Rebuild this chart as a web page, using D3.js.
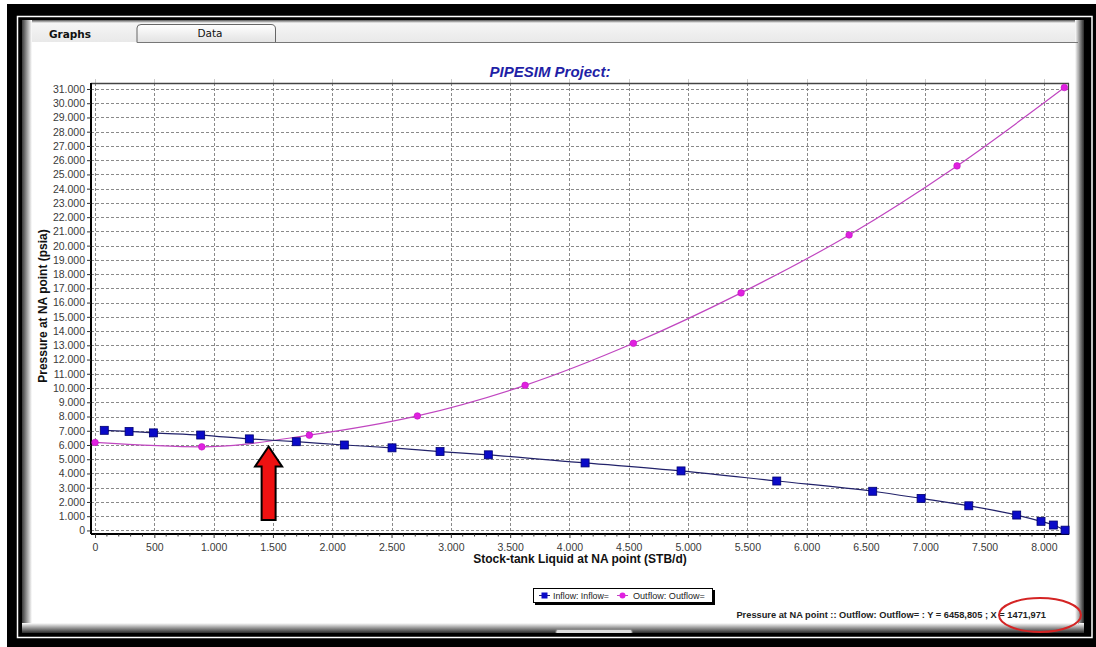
<!DOCTYPE html>
<html><head><meta charset="utf-8">
<script src="https://cdn.jsdelivr.net/npm/d3@7"></script>
<style>body{margin:0;background:#fff}svg{display:block}</style>
</head><body>
<svg id="c" width="1096" height="647"></svg>
<script>
// ---- data ----
const inflowX = [78, 287, 492, 891, 1301, 1697, 2102, 2504, 2909, 3316, 4132, 4941, 5748, 6557, 6965, 7367, 7771, 7976, 8080, 8179];
const inflowY = [7030, 6950, 6850, 6700, 6430, 6230, 6000, 5800, 5540, 5310, 4740, 4180, 3470, 2750, 2250, 1730, 1080, 640, 380, 20];
const outflowX = [0, 900, 1807, 2718, 3626, 4539, 5447, 6358, 7268, 8173];
const outflowY = [6180, 5870, 6690, 8040, 10190, 13140, 16680, 20750, 25600, 31100];
const xTickValues = [0, 500, 1000, 1500, 2000, 2500, 3000, 3500, 4000, 4500, 5000, 5500, 6000, 6500, 7000, 7500, 8000];
const yTickValues = [0, 1000, 2000, 3000, 4000, 5000, 6000, 7000, 8000, 9000, 10000, 11000, 12000, 13000, 14000, 15000, 16000, 17000, 18000, 19000, 20000, 21000, 22000, 23000, 24000, 25000, 26000, 27000, 28000, 29000, 30000, 31000];
const seriesNames = ["Inflow: Inflow=", "Outflow: Outflow="];
const crossX = 1471.971, crossY = 6458.805;
const titleText = "PIPESIM Project:";
const xTitle = "Stock-tank Liquid at NA point (STB/d)";
const yTitle = "Pressure at NA point (psia)";

const loc = d3.formatLocale({decimal: ",", thousands: ".", grouping: [3], currency: ["", ""]});
const fmtInt = loc.format(",d");
const fmt3 = loc.format(".3f");

const svg = d3.select("#c");
const defs = svg.append("defs");
const FONT = "'Liberation Sans', Arial, sans-serif";

// fit a text element to a target width by adjusting its font size
function fitWidth(sel, w) {
  const fs = +sel.attr("font-size");
  const len = sel.node().getComputedTextLength();
  if (len > 0) sel.attr("font-size", (fs * w / len).toFixed(2));
  return sel;
}

// ---- outer frame ----
svg.append("rect").attr("x", 7).attr("y", 4).attr("width", 1089).attr("height", 643).attr("fill", "#000");
svg.append("rect").attr("x", 17.5).attr("y", 16.5).attr("width", 1074.5).attr("height", 621)
  .attr("fill", "none").attr("stroke", "#fff").attr("stroke-width", 1.5);
svg.append("rect").attr("x", 22).attr("y", 20).attr("width", 1062).attr("height", 613).attr("fill", "#fff");

function grad(id, x1, y1, x2, y2, c1, c2) {
  const g = defs.append("linearGradient").attr("id", id)
    .attr("x1", x1).attr("y1", y1).attr("x2", x2).attr("y2", y2);
  g.append("stop").attr("offset", "0").attr("stop-color", c1);
  g.append("stop").attr("offset", "1").attr("stop-color", c2);
}
grad("gl", 0, 0, 1, 0, "#3a3a3a", "#ffffff");
grad("gr", 1, 0, 0, 0, "#2a2a2a", "#ffffff");
grad("gb", 0, 1, 0, 0, "#2a2a2a", "#ffffff");
grad("gt", 0, 0, 0, 1, "#555", "#f4f4f4");
grad("gtab", 0, 0, 0, 1, "#ffffff", "#e2e2e2");
grad("gstrip", 0, 0, 0, 1, "#f7f7f7", "#e9e9e9");

svg.append("rect").attr("x", 22).attr("y", 20).attr("width", 1062).attr("height", 22).attr("fill", "url(#gstrip)");
svg.append("rect").attr("x", 22).attr("y", 20).attr("width", 1062).attr("height", 3).attr("fill", "url(#gt)");
svg.append("rect").attr("x", 22).attr("y", 20).attr("width", 10).attr("height", 613).attr("fill", "url(#gl)");
svg.append("rect").attr("x", 1075).attr("y", 20).attr("width", 9).attr("height", 613).attr("fill", "url(#gr)");
svg.append("rect").attr("x", 22).attr("y", 623).attr("width", 1062).attr("height", 10).attr("fill", "url(#gb)");

// ---- tabs ----
svg.append("path")
  .attr("d", "M137,42.5 L137,28 Q137,24.5 141,24.5 L271,24.5 Q275.5,24.5 275.5,29 L275.5,42.5")
  .attr("fill", "url(#gtab)").attr("stroke", "#666").attr("stroke-width", 1);
svg.append("line").attr("x1", 137).attr("x2", 1078).attr("y1", 42.5).attr("y2", 42.5)
  .attr("stroke", "#777");
svg.append("line").attr("x1", 1078.5).attr("x2", 1078.5).attr("y1", 42).attr("y2", 624)
  .attr("stroke", "#b0b0b0");
svg.append("text").attr("x", 70).attr("y", 38).attr("text-anchor", "middle")
  .attr("font-family", "Tahoma, 'DejaVu Sans', sans-serif").attr("font-weight", "bold").attr("font-size", 10.5)
  .attr("fill", "#111").text("Graphs");
svg.append("text").attr("x", 210).attr("y", 37).attr("text-anchor", "middle")
  .attr("font-family", "Tahoma, 'DejaVu Sans', sans-serif").attr("font-size", 10.5)
  .attr("fill", "#111").text("Data");
// small control at the bottom
svg.append("path").attr("d", "M556,633 L556,631 Q556,629.5 558,629.5 L630,629.5 Q632,629.5 632,631 L632,633")
  .attr("fill", "#ddd").attr("stroke", "#888");

// ---- title ----
svg.append("text").attr("x", 550).attr("y", 77).attr("text-anchor", "middle")
  .attr("font-family", FONT).attr("font-weight", "bold").attr("font-style", "italic")
  .attr("font-size", 15).attr("fill", "#1f1fa6").text(titleText);

// ---- scales ----
const L = 91, R = 1069, T = 83, B = 534;
const x = d3.scaleLinear().domain([-34, 8212]).range([L, R]);
const y = d3.scaleLinear().domain([-250, 31420]).range([B, T]);

// ---- grid ----
const grid = svg.append("g");
grid.selectAll("line.h").data(yTickValues).join("line")
  .attr("x1", L).attr("x2", R).attr("y1", d => Math.round(y(d)) + 0.5).attr("y2", d => Math.round(y(d)) + 0.5)
  .attr("stroke", "#8a8a8a").attr("stroke-dasharray", "3,2");
grid.selectAll("line.v").data(xTickValues).join("line")
  .attr("y1", T).attr("y2", B).attr("x1", d => Math.round(x(d)) + 0.5).attr("x2", d => Math.round(x(d)) + 0.5)
  .attr("stroke", "#8a8a8a").attr("stroke-dasharray", "3,2");
grid.selectAll("line.tm").data(xTickValues).join("line")
  .attr("y1", T - 4).attr("y2", T).attr("x1", d => Math.round(x(d)) + 0.5).attr("x2", d => Math.round(x(d)) + 0.5)
  .attr("stroke", "#ccc");

// ---- frame ----
svg.append("line").attr("x1", L).attr("x2", R).attr("y1", T + 0.5).attr("y2", T + 0.5).attr("stroke", "#444").attr("stroke-width", 1.5);
svg.append("line").attr("x1", R - 0.5).attr("x2", R - 0.5).attr("y1", T).attr("y2", B).attr("stroke", "#444").attr("stroke-width", 1.2);

// ---- axes ----
const yAxis = d3.axisLeft(y).tickValues(yTickValues).tickFormat(d => d === 0 ? "0" : fmtInt(d)).tickSize(4).tickPadding(2);
const gy = svg.append("g").attr("transform", `translate(${L},0)`).call(yAxis);
const xAxis = d3.axisBottom(x).tickValues(xTickValues).tickFormat(d => d === 0 ? "0" : fmtInt(d)).tickSize(4).tickPadding(6);
const gx = svg.append("g").attr("transform", `translate(0,${B})`).call(xAxis);
const minorX = d3.range(100, 8200, 100).filter(v => v % 500 !== 0);
svg.append("g").selectAll("line").data(minorX).join("line")
  .attr("x1", d => x(d)).attr("x2", d => x(d)).attr("y1", B).attr("y2", B + 2.5).attr("stroke", "#333");
[gx, gy].forEach(g => {
  g.select(".domain").attr("stroke", "#000").attr("stroke-width", 2);
  g.selectAll(".tick line").attr("stroke", "#333");
  g.selectAll(".tick text").attr("font-family", FONT).attr("font-size", 10.5).attr("fill", "#3a3a3a");
});
gy.select(".domain").attr("d", `M0,${T}V${B}`);
gx.select(".domain").attr("d", `M${L},0H${R}`);

// ---- axis titles ----
svg.append("text").attr("x", 580).attr("y", 563).attr("text-anchor", "middle")
  .attr("font-family", FONT).attr("font-weight", "bold").attr("font-size", 12).attr("fill", "#111").text(xTitle);
svg.append("text").attr("transform", "translate(47,306) rotate(-90)").attr("text-anchor", "middle")
  .attr("font-family", FONT).attr("font-weight", "bold").attr("font-size", 12).attr("fill", "#111").text(yTitle);

// ---- series ----
const inflow = inflowX.map((v, i) => [v, inflowY[i]]);
const outflow = outflowX.map((v, i) => [v, outflowY[i]]);
const line = d3.line().x(d => x(d[0])).y(d => y(d[1])).curve(d3.curveMonotoneX);
svg.append("path").datum(outflow).attr("d", line).attr("fill", "none").attr("stroke", "#c046c0").attr("stroke-width", 1.2);
svg.append("path").datum(inflow).attr("d", line).attr("fill", "none").attr("stroke", "#22226a").attr("stroke-width", 1.2);
svg.append("g").selectAll("rect").data(inflow).join("rect")
  .attr("x", d => x(d[0]) - 4).attr("y", d => y(d[1]) - 4).attr("width", 8).attr("height", 8)
  .attr("fill", "#0a0ac8").attr("stroke", "#000070").attr("stroke-width", 0.8);
svg.append("g").selectAll("circle").data(outflow).join("circle")
  .attr("cx", d => x(d[0])).attr("cy", d => y(d[1])).attr("r", 3.3)
  .attr("fill", "#e020e0").attr("stroke", "#c010c0").attr("stroke-width", 0.6);

// ---- red arrow annotation ----
const tx = x(crossX) - 1, ty = y(crossY) + 8;
const arrowPts = [[tx, ty], [tx + 13.5, ty + 20], [tx + 7, ty + 20], [tx + 7, 520], [tx - 7, 520], [tx - 7, ty + 20], [tx - 13.5, ty + 20]];
svg.append("polygon").attr("points", arrowPts.map(p => p.join(",")).join(" "))
  .attr("fill", "#ee1111").attr("stroke", "#000").attr("stroke-width", 2).attr("stroke-linejoin", "miter");

// ---- legend ----
const lg = svg.append("g");
lg.append("rect").attr("x", 535).attr("y", 590).attr("width", 180).attr("height", 15).attr("fill", "#000");
lg.append("rect").attr("x", 533.5).attr("y", 588.5).attr("width", 179).attr("height", 14).attr("fill", "#fff").attr("stroke", "#000");
lg.append("line").attr("x1", 539).attr("x2", 550).attr("y1", 595.5).attr("y2", 595.5).attr("stroke", "#22226a");
lg.append("rect").attr("x", 541.5).attr("y", 592.5).attr("width", 6).attr("height", 6).attr("fill", "#0a0ac8");
const lt1 = lg.append("text").attr("x", 553).attr("y", 599).attr("font-family", FONT).attr("font-size", 10).attr("fill", "#222").text(seriesNames[0]);
fitWidth(lt1, 56);
lg.append("line").attr("x1", 617).attr("x2", 628).attr("y1", 595.5).attr("y2", 595.5).attr("stroke", "#c046c0");
lg.append("circle").attr("cx", 622.5).attr("cy", 595.5).attr("r", 3).attr("fill", "#e020e0");
const lt2 = lg.append("text").attr("x", 633).attr("y", 599).attr("font-family", FONT).attr("font-size", 10).attr("fill", "#222").text(seriesNames[1]);
fitWidth(lt2, 72);

// ---- status readout ----
const status = svg.append("text").attr("x", 1046).attr("y", 618).attr("text-anchor", "end")
  .attr("font-family", FONT).attr("font-weight", "bold").attr("font-size", 10).attr("fill", "#222")
  .text(`Pressure at NA point :: ${seriesNames[1]} : Y = ${fmt3(crossY)} ; X = ${fmt3(crossX)}`);
fitWidth(status, 310);
svg.append("ellipse").attr("cx", 1040).attr("cy", 615).attr("rx", 41).attr("ry", 17)
  .attr("fill", "none").attr("stroke", "#d42424").attr("stroke-width", 2);
</script>
</body></html>
